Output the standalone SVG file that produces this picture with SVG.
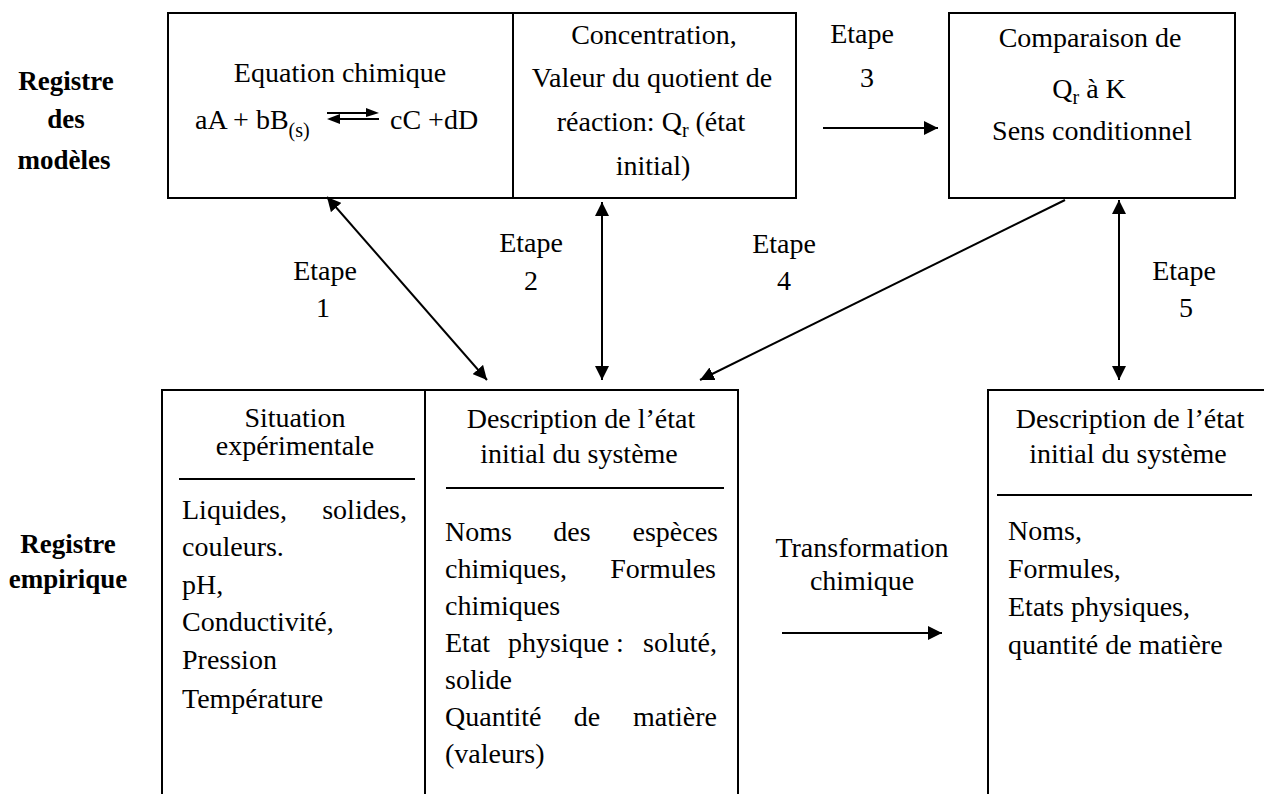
<svg xmlns="http://www.w3.org/2000/svg" width="1264" height="794" viewBox="0 0 1264 794">
<style>
  .t{font-family:"Liberation Serif","Times New Roman",serif;font-size:28px;fill:#000}
  .c{text-anchor:middle}
  .e{text-anchor:end}
  .b{font-family:"Liberation Serif","Times New Roman",serif;font-size:27px;font-weight:bold;fill:#000;text-anchor:middle}
  .box{fill:#fff;stroke:#000;stroke-width:2}
  .ln{stroke:#000;stroke-width:2;fill:none}
  .ar{stroke:#000;stroke-width:2;fill:none}
</style>
<defs>
  <marker id="ah" markerUnits="userSpaceOnUse" markerWidth="16" markerHeight="14" refX="14" refY="7" orient="auto-start-reverse">
    <path d="M0,0 L14,7 L0,14 z" fill="#000"/>
  </marker>
</defs>
<rect width="1264" height="794" fill="#fff"/>

<g id="labels">
  <text class="b" x="66" y="90">Registre</text>
  <text class="b" x="66" y="128">des</text>
  <text class="b" x="64" y="169">modèles</text>
  <text class="b" x="68" y="553">Registre</text>
  <text class="b" x="68" y="588">empirique</text>
</g>

<g id="node-equation">
  <rect class="box" x="168" y="13" width="345" height="185"/>
  <text class="t c" x="340" y="82">Equation chimique</text>
  <text class="t" x="195" y="129">aA + bB<tspan font-size="20" dy="8">(s)</tspan></text>
  <line class="ln" x1="327" y1="113" x2="368" y2="113"/>
  <path d="M366,108 L379,113 L366,117 z" fill="#000"/>
  <line class="ln" x1="338" y1="119" x2="379" y2="119"/>
  <path d="M340,114 L327,119 L340,124 z" fill="#000"/>
  <text class="t" x="390" y="129">cC +dD</text>
</g>

<g id="node-concentration">
  <rect class="box" x="513" y="13" width="283" height="185"/>
  <text class="t c" x="654" y="44">Concentration,</text>
  <text class="t c" x="652" y="87">Valeur du quotient de</text>
  <text class="t c" x="651" y="131">réaction: Q<tspan font-size="20" dy="6">r</tspan><tspan dy="-6"> (état</tspan></text>
  <text class="t c" x="653" y="175">initial)</text>
</g>

<g id="node-comparaison">
  <rect class="box" x="949" y="13" width="286" height="185"/>
  <text class="t c" x="1090" y="47">Comparaison de</text>
  <text class="t c" x="1089" y="98">Q<tspan font-size="20" dy="6">r</tspan><tspan dy="-6"> à K</tspan></text>
  <text class="t c" x="1092" y="140">Sens conditionnel</text>
</g>

<g id="node-situation">
  <rect class="box" x="162" y="390" width="263" height="420"/>
  <text class="t c" x="295" y="427">Situation</text>
  <text class="t c" x="295" y="455">expérimentale</text>
  <line class="ln" x1="179" y1="479" x2="415" y2="479"/>
  <text class="t" x="182" y="519">Liquides,</text>
  <text class="t e" x="407" y="519">solides,</text>
  <text class="t" x="182" y="556">couleurs.</text>
  <text class="t" x="182" y="594"> pH,</text>
  <text class="t" x="182" y="631">Conductivité,</text>
  <text class="t" x="182" y="669">Pression</text>
  <text class="t" x="182" y="708">Température</text>
</g>

<g id="node-description1">
  <rect class="box" x="425" y="390" width="313" height="420"/>
  <text class="t c" x="581" y="428">Description de l’état</text>
  <text class="t c" x="579" y="463">initial du système</text>
  <line class="ln" x1="446" y1="488" x2="724" y2="488"/>
  <text class="t" x="445" y="541">Noms</text>
  <text class="t c" x="572" y="541">des</text>
  <text class="t e" x="718" y="541">espèces</text>
  <text class="t" x="445" y="578">chimiques,</text>
  <text class="t e" x="716" y="578">Formules</text>
  <text class="t" x="445" y="615">chimiques</text>
  <text class="t" x="445" y="652">Etat</text>
  <text class="t" x="508" y="652">physique :</text>
  <text class="t e" x="717" y="652">soluté,</text>
  <text class="t" x="445" y="689">solide</text>
  <text class="t" x="445" y="726">Quantité</text>
  <text class="t c" x="587" y="726">de</text>
  <text class="t e" x="717" y="726">matière</text>
  <text class="t" x="445" y="763">(valeurs)</text>
</g>

<g id="node-description2">
  <rect class="box" x="988" y="390" width="300" height="420"/>
  <text class="t c" x="1130" y="428">Description de l’état</text>
  <text class="t c" x="1128" y="463">initial du système</text>
  <line class="ln" x1="997" y1="495" x2="1252" y2="495"/>
  <text class="t" x="1008" y="540">Noms,</text>
  <text class="t" x="1008" y="578">Formules,</text>
  <text class="t" x="1008" y="616">Etats physiques,</text>
  <text class="t" x="1008" y="654">quantité de matière</text>
</g>

<g id="connectors">
  <line class="ar" x1="327" y1="197" x2="487" y2="380" marker-start="url(#ah)" marker-end="url(#ah)"/>
  <line class="ar" x1="602" y1="202" x2="602" y2="380" marker-start="url(#ah)" marker-end="url(#ah)"/>
  <line class="ar" x1="823" y1="128" x2="938" y2="128" marker-end="url(#ah)"/>
  <line class="ar" x1="1065" y1="200" x2="700" y2="380" marker-end="url(#ah)"/>
  <line class="ar" x1="1119" y1="200" x2="1119" y2="380" marker-start="url(#ah)" marker-end="url(#ah)"/>
  <line class="ar" x1="782" y1="633" x2="942" y2="633" marker-end="url(#ah)"/>
  <text class="t c" x="325" y="280">Etape</text>
  <text class="t c" x="323" y="317">1</text>
  <text class="t c" x="531" y="252">Etape</text>
  <text class="t c" x="531" y="290">2</text>
  <text class="t c" x="862" y="43">Etape</text>
  <text class="t c" x="867" y="87">3</text>
  <text class="t c" x="784" y="253">Etape</text>
  <text class="t c" x="784" y="290">4</text>
  <text class="t c" x="1184" y="280">Etape</text>
  <text class="t c" x="1186" y="317">5</text>
  <text class="t c" x="862" y="557">Transformation</text>
  <text class="t c" x="862" y="590">chimique</text>
</g>
</svg>
